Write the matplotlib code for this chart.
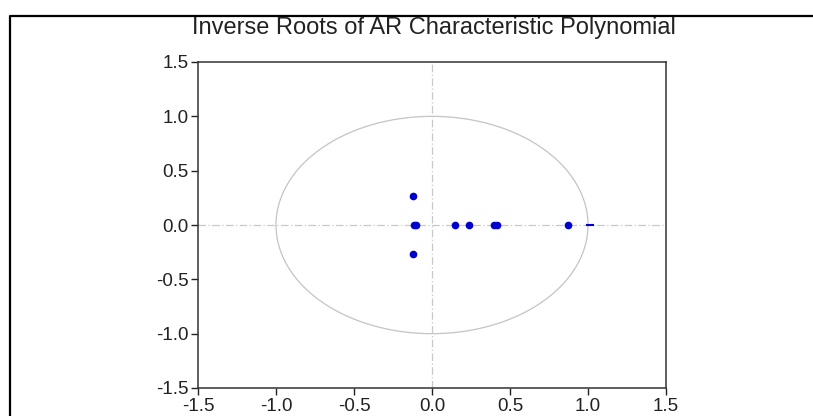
import numpy as np
import matplotlib
matplotlib.use("Agg")
import matplotlib.pyplot as plt
from matplotlib.lines import Line2D

plt.rcParams['font.family'] = ['Liberation Sans', 'DejaVu Sans']
plt.rcParams['axes.unicode_minus'] = False

title = "Inverse Roots of AR Characteristic Polynomial"
root_re = [-0.12, -0.12, -0.115, -0.105, 0.147, 0.237, 0.40, 0.415, 0.87]
root_im = [0.27, -0.27, 0.0, 0.0, 0.0, 0.0, 0.0, 0.0, 0.0]
edge_re = [1.01]
edge_im = [0.0]
ticks = [-1.5, -1.0, -0.5, 0.0, 0.5, 1.0, 1.5]
tick_labels = ["-1.5", "-1.0", "-0.5", "0.0", "0.5", "1.0", "1.5"]

W, H = 813, 416
fig = plt.figure(figsize=(W / 100, H / 100), dpi=100)
ax = fig.add_axes([198 / W, 1 - 388 / H, (666 - 198) / W, (388 - 62) / H])

# unit circle
t = np.linspace(0, 2 * np.pi, 400)
ax.plot(np.cos(t), np.sin(t), color="#c4c4c4", lw=0.9, zorder=1)
# zero lines
ax.axhline(0, color="#c8c8c8", lw=0.9, ls=(0, (6, 2, 1, 2)), zorder=1)
ax.axvline(0, color="#c8c8c8", lw=0.9, ls=(0, (6, 2, 1, 2)), zorder=1)

ax.plot(root_re, root_im, ls="none", marker="o", ms=4.5, color="#0000cc",
        mec="#0000cc", zorder=3)
ax.plot(edge_re, edge_im, ls="none", marker="_", ms=6, mew=1.5,
        color="#0000cc", zorder=3)

ax.set_xlim(-1.5, 1.5)
ax.set_ylim(-1.5, 1.5)
ax.set_xticks(ticks)
ax.set_xticklabels(tick_labels)
ax.set_yticks(ticks)
ax.set_yticklabels(tick_labels)
ax.tick_params(direction="out", length=5, width=1.0, color="#222222",
               labelsize=13.5, labelcolor="#222222", pad=2)
for s in ax.spines.values():
    s.set_linewidth(1.1)
    s.set_color("#333333")

fig.text(434 / W, 1 - 28 / H, title, ha="center", va="center",
         fontsize=17, color="#222222")

# outer frame (top and left edges)
fig.add_artist(Line2D([9.5 / W, 9.5 / W, 1.0], [0.0, 1 - 16 / H, 1 - 16 / H],
                      transform=fig.transFigure, color="black", lw=1.6))

fig.savefig("out.png", dpi=100)
